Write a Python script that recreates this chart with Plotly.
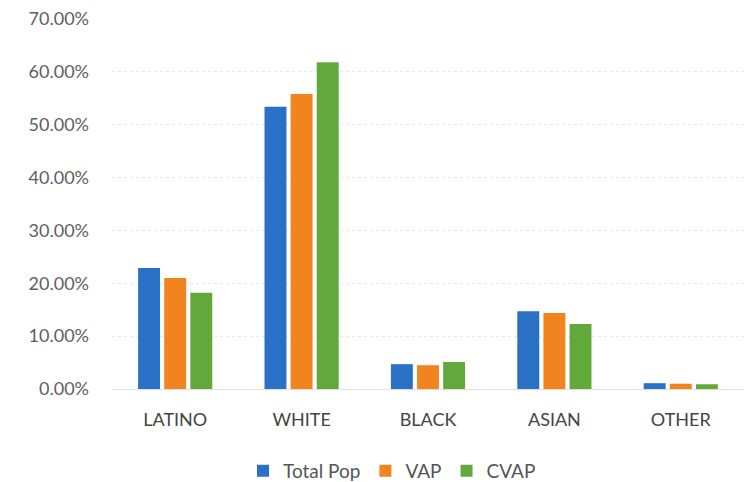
import plotly.graph_objects as go

categories = ["LATINO", "WHITE", "BLACK", "ASIAN", "OTHER"]
total_pop = [0.229, 0.534, 0.047, 0.147, 0.011]
vap = [0.210, 0.558, 0.045, 0.144, 0.010]
cvap = [0.182, 0.618, 0.051, 0.123, 0.009]
tick_vals = [0, 0.1, 0.2, 0.3, 0.4, 0.5, 0.6, 0.7]
tick_text = ["0.00%", "10.00%", "20.00%", "30.00%", "40.00%", "50.00%", "60.00%", "70.00%"]

series = [("Total Pop", total_pop, "#2a70c6"), ("VAP", vap, "#f2841f"), ("CVAP", cvap, "#63a83b")]

fig = go.Figure()
for name, vals, col in series:
    fig.add_trace(go.Bar(x=categories, y=vals, name=name, marker_color=col, marker_line_width=0))

fig.update_layout(
    width=748, height=482,
    margin=dict(l=112, r=4, t=19, b=93, autoexpand=False),
    paper_bgcolor="white", plot_bgcolor="white",
    barmode="group", bargap=0.38, bargroupgap=0.16,
    font=dict(family="Lato, sans-serif", size=16, color="#555555"),
    legend=dict(orientation="h", x=0.443, xanchor="center", y=-0.17, yanchor="top",
                font=dict(size=19, color="#555555"), itemwidth=30, traceorder="normal"),
    showlegend=True,
)
fig.update_yaxes(range=[0, 0.7], tickvals=tick_vals, ticktext=tick_text, automargin=False,
                 showgrid=True, gridcolor="#e6e6e6", gridwidth=1, griddash="dot",
                 zeroline=False, showline=False, ticks="", ticklabelstandoff=22,
                 tickfont=dict(size=18, color="#606060"))
fig.update_xaxes(showline=True, linecolor="#e0e0e0", ticks="", automargin=False,
                 tickfont=dict(size=18, color="#444444"), ticklabelstandoff=14)

fig.write_html("out.html", config={"displayModeBar": False},
               post_script="document.body.style.margin='0';document.body.style.padding='0';")
